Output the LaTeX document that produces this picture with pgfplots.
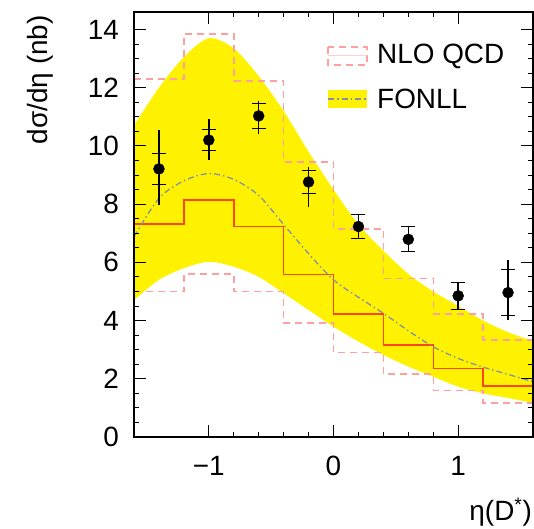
\documentclass[border=0pt]{standalone}
\usepackage{pgfplots}
\pgfplotsset{compat=1.18}
\usepgfplotslibrary{fillbetween}
\usetikzlibrary{calc}
\usepackage{fontspec}
\setmainfont{Liberation Sans}
\definecolor{histred}{RGB}{255,70,10}
\definecolor{nlopink}{RGB}{255,160,160}
\definecolor{fonllline}{RGB}{130,145,165}
\begin{document}
\begin{tikzpicture}[font=\fontsize{28}{33}\selectfont]
\begin{axis}[name=ax, scale only axis, width=399bp, height=425bp,
  xmin=-1.6, xmax=1.6, ymin=0, ymax=14.6,
  xtick={-1,0,1}, xticklabels={−1,0,1}, minor x tick num=4,
  ytick={0,2,...,14}, minor y tick num=3,
  tick align=inside, major tick length=12bp, minor tick length=5bp,
  axis on top,
  axis line style={line width=1.2bp},
  every tick/.style={black, line width=1bp},
  /pgf/number format/assume math mode=true,
  yticklabel style={anchor=east, inner sep=0pt, xshift=-15bp},
  xticklabel style={anchor=north, inner sep=0pt, yshift=-19bp},
  clip=true]
% FONLL band
\addplot[name path=up, draw=none, smooth] coordinates {
(-1.6,10.7) (-1.4,12.0) (-1.2,13.05) (-1.0,13.7) (-0.8,13.35) (-0.6,12.4)
(-0.4,11.2) (-0.2,9.8) (0.0,8.5) (0.2,7.3) (0.4,6.4) (0.6,5.6) (0.8,5.0)
(1.0,4.5) (1.2,4.0) (1.4,3.6) (1.6,3.3)};
\addplot[name path=lo, draw=none, smooth] coordinates {
(-1.6,4.7) (-1.4,5.4) (-1.2,5.8) (-1.0,6.02) (-0.8,5.85) (-0.6,5.5)
(-0.4,4.94) (-0.2,4.36) (0.0,3.79) (0.2,3.28) (0.4,2.82) (0.6,2.42) (0.8,2.07)
(1.0,1.73) (1.2,1.5) (1.4,1.34) (1.6,1.17)};
\addplot[draw=none, fill=yellow] fill between[of=up and lo];
% NLO QCD upper / lower
\addplot[const plot, nlopink, line width=1.5bp, dash pattern=on 7bp off 5bp] coordinates {
(-1.6,12.3) (-1.2,13.85) (-0.8,12.23) (-0.4,9.44) (0.0,7.15) (0.4,5.45) (0.8,4.23) (1.2,3.33) (1.6,3.33)};
\addplot[const plot, nlopink, line width=1.5bp, dash pattern=on 7bp off 5bp] coordinates {
(-1.6,4.99) (-1.2,5.6) (-0.8,4.99) (-0.4,3.91) (0.0,2.91) (0.4,2.16) (0.8,1.59) (1.2,1.16) (1.6,1.16)};
% NLO QCD central
\addplot[const plot, histred, line width=1.5bp] coordinates {
(-1.6,0) (-1.6,7.31) (-1.2,8.14) (-0.8,7.23) (-0.4,5.59) (0.0,4.22) (0.4,3.16) (0.8,2.36) (1.2,1.76) (1.6,1.76)};
% FONLL central
\addplot[fonllline, dash pattern=on 6bp off 3bp on 1.5bp off 3bp, line width=1.3bp, smooth] coordinates {
(-1.6,6.88) (-1.4,8.2) (-1.2,8.8) (-1.0,9.05) (-0.8,8.85) (-0.6,8.3)
(-0.4,7.3) (-0.2,6.3) (0.0,5.4) (0.2,4.8) (0.4,4.25) (0.6,3.65) (0.8,3.1)
(1.0,2.7) (1.2,2.4) (1.4,2.15) (1.6,1.9)};
% data: total errors
\addplot[only marks, mark=none, black,
  error bars/.cd, y dir=both, y explicit, error mark=none,
  error bar style={line width=1.5bp, black}] coordinates {
(-1.4,9.21) += (0,1.34) -= (0,1.25)
(-1.0,10.2) += (0,0.72) -= (0,0.7)
(-0.6,11.03) += (0,0.5) -= (0,0.62)
(-0.2,8.76) += (0,0.5) -= (0,0.86)
(0.2,7.23) += (0,0.4) -= (0,0.4)
(0.6,6.79) += (0,0.44) -= (0,0.42)
(1.0,4.85) += (0,0.47) -= (0,0.49)
(1.4,4.96) += (0,1.12) -= (0,0.94)};
% data: stat errors
\addplot[only marks, black, mark=*, mark size=5.5bp,
  error bars/.cd, y dir=both, y explicit,
  error bar style={line width=1.5bp, black},
  error mark options={rotate=90, mark size=7bp, line width=1.2bp, black}] coordinates {
(-1.4,9.21) +- (0,0.53)
(-1.0,10.2) +- (0,0.37)
(-0.6,11.03) +- (0,0.43)
(-0.2,8.76) +- (0,0.4)
(0.2,7.23) +- (0,0.4)
(0.6,6.79) +- (0,0.43)
(1.0,4.85) +- (0,0.47)
(1.4,4.96) +- (0,0.79)};
% legend
\draw[nlopink, line width=1.5bp, dash pattern=on 7bp off 5bp] (axis cs:-0.044,13.40) rectangle (axis cs:0.268,12.78);
\draw[nlopink!50, line width=1bp] (axis cs:-0.044,13.09) -- (axis cs:0.268,13.09);
\node[anchor=west, inner sep=0pt] at (axis cs:0.349,13.09) {NLO QCD};
\fill[yellow] (axis cs:-0.044,11.92) rectangle (axis cs:0.268,11.31);
\draw[fonllline, dash pattern=on 6bp off 3bp on 1.5bp off 3bp, line width=1.3bp] (axis cs:-0.044,11.61) -- (axis cs:0.268,11.61);
\node[anchor=west, inner sep=0pt] at (axis cs:0.349,11.61) {FONLL};
\end{axis}
\node[rotate=90, anchor=north east, inner sep=0pt] at ($(ax.north west)+(-107bp,-3bp)$) {dσ/dη (nb)};
\node[anchor=base east, inner sep=0pt] at ($(ax.south east)+(-1bp,-83bp)$) {η(D\textsuperscript{*})};
\pgfresetboundingbox
\path[use as bounding box] ($(ax.south west)+(-134bp,-92bp)$) rectangle ($(ax.north east)+(1bp,12bp)$);
\end{tikzpicture}
\end{document}
